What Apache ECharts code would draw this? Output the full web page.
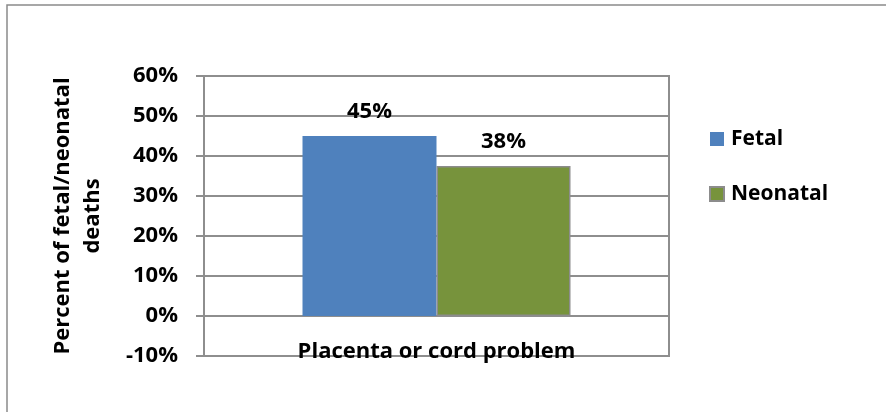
<!DOCTYPE html>
<html>
<head>
<meta charset="utf-8">
<script src="https://cdn.jsdelivr.net/npm/echarts@6/dist/echarts.min.js"></script>
<style>
  html, body { margin: 0; padding: 0; background: #fff; }
  #chart { width: 886px; height: 412px; }
</style>
</head>
<body>
<div id="chart"></div>
<script>
// Share of fetal vs. neonatal deaths attributed to placenta or cord problems (percent)
const categories = ['Placenta or cord problem'];
const seriesNames = ['Fetal', 'Neonatal'];
const fetalValues = [45];
const neonatalValues = [37.5];
const seriesColors = ['#4F81BD', '#77933C'];
const yTicks = { min: -10, max: 60, step: 10 };

const FONT = '"Open Sans"';
const GRID_COLOR = '#8e8e8e';

const chart = echarts.init(document.getElementById('chart'), null, { renderer: 'canvas' });

const labelStyle = {
  show: true,
  position: 'top',
  distance: 13,
  fontFamily: FONT,
  fontWeight: 'bold',
  fontSize: 22,
  color: '#000',
  formatter: p => Math.round(p.value) + '%'
};

chart.setOption({
  animation: false,
  backgroundColor: '#fff',
  graphic: [{
    type: 'rect',
    shape: { x: 7, y: 5, width: 1000, height: 600 },
    style: { fill: 'none', stroke: '#8a8a8a', lineWidth: 1.5 },
    silent: true
  }],
  grid: {
    left: 204, top: 76, right: 217, bottom: 56,
    show: true, borderColor: GRID_COLOR, borderWidth: 2, backgroundColor: 'transparent'
  },
  legend: {
    orient: 'vertical',
    left: 709, top: 128, padding: 0,
    itemWidth: 14, itemHeight: 14, itemGap: 33,
    icon: 'rect',
    textStyle: { fontFamily: FONT, fontWeight: 'bold', fontSize: 21, color: '#000', lineHeight: 22, padding: [0, 0, 0, 2] },
    data: seriesNames
  },
  xAxis: {
    type: 'category',
    data: categories,
    axisLine: { onZero: true, lineStyle: { color: GRID_COLOR, width: 2 } },
    axisTick: { show: false },
    axisLabel: { margin: -15, fontFamily: FONT, fontWeight: 'bold', fontSize: 22, color: '#000' }
  },
  yAxis: {
    type: 'value',
    min: yTicks.min, max: yTicks.max, interval: yTicks.step,
    name: 'Percent of fetal/neonatal\ndeaths',
    nameLocation: 'middle',
    nameGap: 96,
    nameTextStyle: { fontFamily: FONT, fontWeight: 'bold', fontSize: 22, color: '#000', lineHeight: 30, align: 'center' },
    axisLine: { show: true, lineStyle: { color: GRID_COLOR, width: 2 } },
    axisTick: { show: true, length: 8, lineStyle: { color: GRID_COLOR, width: 2 } },
    axisLabel: { margin: 26, fontFamily: FONT, fontWeight: 'bold', fontSize: 22, color: '#000', formatter: '{value}%' },
    splitLine: { show: true, lineStyle: { color: GRID_COLOR, width: 2 } }
  },
  series: [
    {
      name: seriesNames[0], type: 'bar', data: fetalValues,
      barWidth: 134, barGap: '0%',
      itemStyle: { color: seriesColors[0] },
      label: labelStyle
    },
    {
      name: seriesNames[1], type: 'bar', data: neonatalValues,
      barWidth: 134,
      itemStyle: { color: seriesColors[1], borderColor: '#8c8c8c', borderWidth: 1.5 },
      label: labelStyle
    }
  ]
});
</script>
</body>
</html>
